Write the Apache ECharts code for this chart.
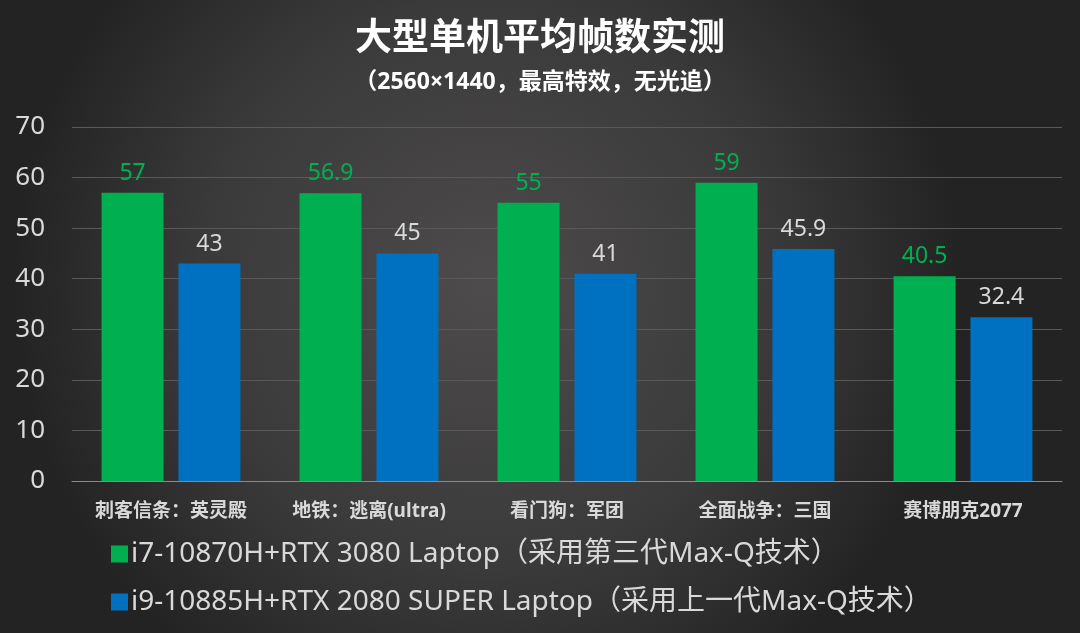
<!DOCTYPE html>
<html>
<head>
<meta charset="utf-8">
<script src="https://cdn.jsdelivr.net/npm/echarts@6/dist/echarts.min.js"></script>
<style>
html, body { margin: 0; padding: 0; background: #333; }
#chart { width: 1080px; height: 633px; }
</style>
</head>
<body>
<div id="chart"></div>
<script>
// data
var games = ['刺客信条：英灵殿', '地铁：逃离(ultra)', '看门狗：军团', '全面战争：三国', '赛博朋克2077'];
var seriesNames = [
	'i7-10870H+RTX 3080 Laptop（采用第三代Max-Q技术）',
	'i9-10885H+RTX 2080 SUPER Laptop（采用上一代Max-Q技术）'
];
var fps3080 = [57, 56.9, 55, 59, 40.5];
var fps2080s = [43, 45, 41, 45.9, 32.4];
var yTicks = { min: 0, max: 70, step: 10 };

var FONT = '"Noto Sans", "Noto Sans CJK SC", sans-serif';
var GREEN = '#00b050';
var BLUE = '#0070c0';
var TEXT = '#d9d9d9';

var chart = echarts.init(document.getElementById('chart'));
var option = {
	backgroundColor: {
		type: 'radial', x: 0.45, y: 0.45, r: 0.75,
		colorStops: [
			{ offset: 0, color: '#4d4b4b' },
			{ offset: 0.6, color: '#3b3a3a' },
			{ offset: 1, color: '#232323' }
		]
	},
	textStyle: { fontFamily: FONT },
	title: {
		text: '大型单机平均帧数实测',
		subtext: '（2560×1440，最高特效，无光追）',
		left: 'center',
		top: 16,
		itemGap: 13,
		textStyle: { color: '#ffffff', fontSize: 37, fontWeight: 'bold', fontFamily: FONT },
		subtextStyle: { color: '#ffffff', fontSize: 23, fontWeight: 'bold', fontFamily: FONT }
	},
	legend: {
		orient: 'vertical',
		left: 106,
		top: 535,
		itemGap: 20,
		itemWidth: 17,
		itemHeight: 17,
		icon: 'rect',
		textStyle: { color: TEXT, fontSize: 28, fontFamily: FONT, padding: [0, 0, 0, -2] },
		data: seriesNames
	},
	grid: { left: 72, right: 18, top: 127, bottom: 152, containLabel: false },
	xAxis: {
		type: 'category',
		data: games,
		axisLine: { lineStyle: { color: '#8a8a8a', width: 1 } },
		axisTick: { show: false },
		axisLabel: { color: TEXT, fontSize: 19, fontWeight: 'bold', margin: 21, interval: 0 }
	},
	yAxis: {
		type: 'value',
		min: yTicks.min,
		max: yTicks.max,
		interval: yTicks.step,
		axisLine: { show: false },
		axisTick: { show: false },
		axisLabel: { color: TEXT, fontSize: 26, margin: 27 },
		splitLine: { lineStyle: { color: '#595959', width: 1 } }
	},
	series: [
		{
			name: seriesNames[0],
			type: 'bar',
			data: fps3080,
			barWidth: 62,
			barGap: '24%',
			itemStyle: { color: GREEN },
			label: { show: true, position: 'top', distance: 8, color: GREEN, fontSize: 23 }
		},
		{
			name: seriesNames[1],
			type: 'bar',
			data: fps2080s,
			barWidth: 62,
			itemStyle: { color: BLUE },
			label: { show: true, position: 'top', distance: 8, color: TEXT, fontSize: 23 }
		}
	]
};
chart.setOption(option);
</script>
</body>
</html>
